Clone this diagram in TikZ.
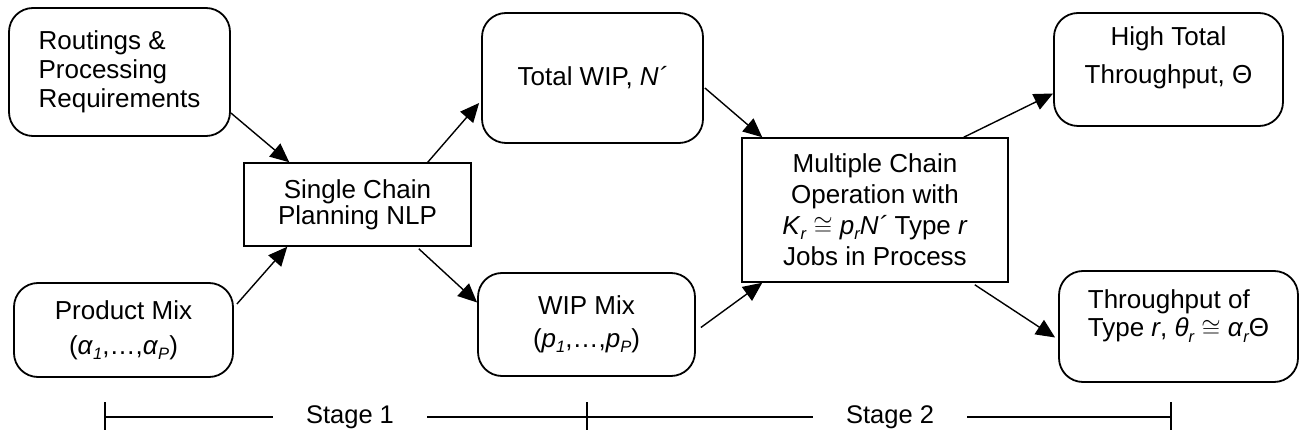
\documentclass[tikz,border=0pt]{standalone}
\usepackage{fontspec}
\setmainfont{Liberation Sans}
\usetikzlibrary{arrows.meta}
\newcommand\lsub[1]{\raisebox{-0.2em}{\fontsize{16.5}{16.5}\selectfont\itshape #1}}
\newcommand\ital[1]{\textit{#1}}
\begin{document}
\begin{tikzpicture}[x=1pt,y=-1pt,
  rbox/.style={draw, line width=1.8pt, rounded corners=24pt, inner sep=0pt, align=center},
  sbox/.style={draw, line width=1.5pt, inner sep=0pt, align=center},
  arr/.style={line width=1.4pt, -{Triangle[length=19pt,width=17pt]}},
  stl/.style={line width=1.4pt},
  stagetext/.style={inner xsep=33pt, inner ysep=0pt, font=\fontsize{25.5}{29}\selectfont},
  fs/.style={font=\fontsize{26}{#1}\selectfont}]
\useasboundingbox (0,0) rectangle (1304,438);

\node[rbox, fs=29, align=left, minimum width=221pt, minimum height=128pt] (rout) at (119.5,72)
  {Routings \&\\Processing\\Requirements};
\node[rbox, fs=35, minimum width=219pt, minimum height=94pt] (prod) at (123.5,330)
  {Product Mix\\(\ital{α}\lsub{1},…,\ital{α}\lsub{P})};
\node[sbox, fs=26, minimum width=227pt, minimum height=83pt] (single) at (357.5,204.5)
  {Single Chain\\Planning NLP};
\node[rbox, fs=29, minimum width=221pt, minimum height=130pt] (twip) at (592.5,78)
  {Total WIP, \ital{N´}};
\node[rbox, fs=33, minimum width=217pt, minimum height=103pt] (wmix) at (586.5,324.5)
  {WIP Mix\\(\ital{p}\lsub{1},…,\ital{p}\lsub{P})};
\node[sbox, fs=31, minimum width=266pt, minimum height=144pt] (multi) at (875,210)
  {Multiple Chain\\Operation with\\\ital{K}\lsub{r} $\cong$ \ital{p}\lsub{r}\ital{N´} Type \ital{r}\\Jobs in Process};
\node[rbox, fs=38, minimum width=229pt, minimum height=113pt] (high) at (1168.5,69.5)
  {High Total\\Throughput, Θ\rule[-28pt]{0pt}{1pt}};
\node[rbox, fs=28, align=left, minimum width=239pt, minimum height=111pt] (tput) at (1178.5,326.5)
  {Throughput of\\Type \ital{r}, \ital{θ}\lsub{r} $\cong$ \ital{α}\lsub{r}Θ\rule[-26pt]{0pt}{1pt}};

\draw[arr] ([yshift=-41pt]rout.east) -- ([xshift=46pt]single.north west);
\draw[arr] ([xshift=3pt,yshift=26pt]prod.east) -- ([xshift=44pt]single.south west);
\draw[arr] ([xshift=-44pt]single.north east) -- ([xshift=-2pt,yshift=-25pt]twip.west);
\draw[arr] ([xshift=-53pt,yshift=-2pt]single.south east) -- ([yshift=22pt]wmix.west);
\draw[arr] ([xshift=1pt,yshift=-10pt]twip.east) -- ([xshift=21pt]multi.north west);
\draw[arr] ([xshift=5pt,yshift=-3pt]wmix.east) -- ([xshift=21pt]multi.south west);
\draw[arr] ([xshift=-45pt]multi.north east) -- ([yshift=-24pt]high.west);
\draw[arr] ([xshift=-34pt,yshift=-2pt]multi.south east) -- ([xshift=-3pt,yshift=-11pt]tput.west);

\coordinate (t0) at (105,417);
\coordinate (t1) at (587,417);
\coordinate (t2) at (1171,417);
\node[stagetext] (st1) at (350,417) {Stage 1};
\node[stagetext] (st2) at (890,417) {Stage 2};
\draw[stl] (t0) -- (st1);
\draw[stl] (st1) -- (t1) -- (st2);
\draw[stl] (st2) -- (t2);
\foreach \t in {t0,t1,t2}
  \draw[stl] ([yshift=15pt]\t) -- ([yshift=-13pt]\t);
\end{tikzpicture}
\end{document}
